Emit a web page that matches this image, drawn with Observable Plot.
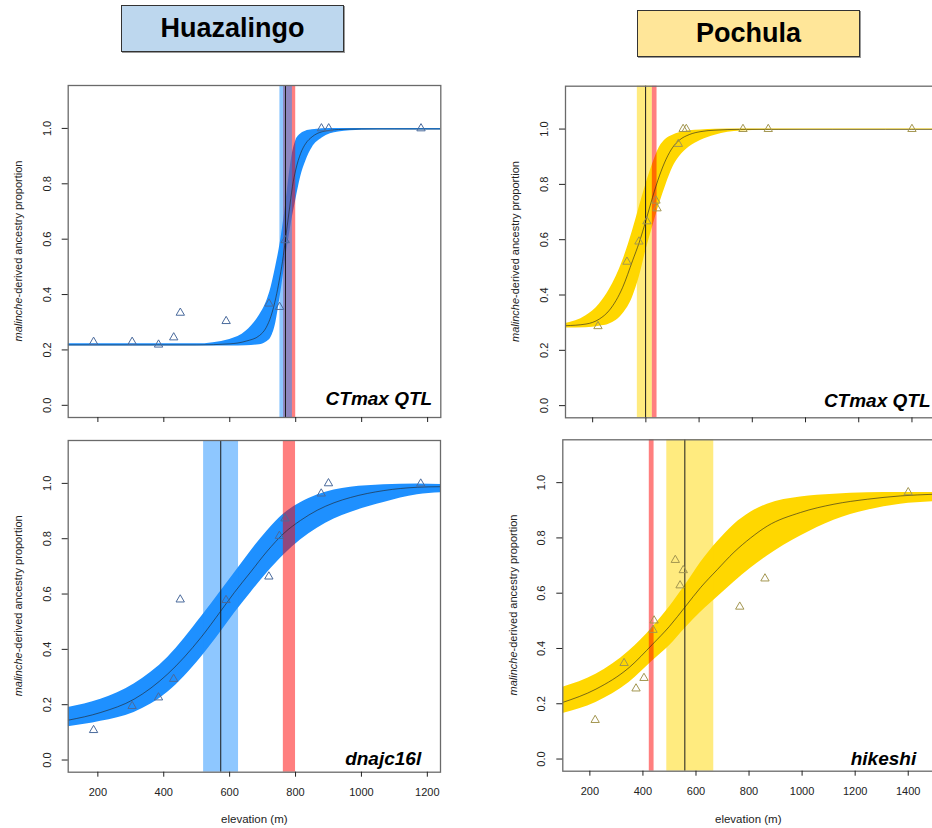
<!DOCTYPE html>
<html>
<head>
<meta charset="utf-8">
<script src="https://cdn.jsdelivr.net/npm/d3@7"></script>
<script src="https://cdn.jsdelivr.net/npm/@observablehq/plot@0.6"></script>
<style>
  html, body { margin: 0; padding: 0; background: #fff; overflow: hidden; }
  #chart { position: relative; width: 932px; height: 828px; overflow: hidden;
           font-family: "Liberation Sans", Arial, sans-serif; }
  .panel { position: absolute; }
  .title { position: absolute; box-sizing: border-box; border: 1px solid #333;
           box-shadow: 1px 1px 0 #999; font-weight: bold; font-size: 27px; color: #000;
           display: flex; align-items: center; justify-content: center; }
</style>
</head>
<body>
<div id="chart"></div>
<script>
// ---- axis ticks ----
const yTicks = [0, 0.2, 0.4, 0.6, 0.8, 1.0];
const huazTicks = [200, 400, 600, 800, 1000, 1200];
const pochTicks = [200, 400, 600, 800, 1000, 1200, 1400];

// ---- sampled populations (elevation, m) ----
const huazElev = [187, 304, 384, 430, 450, 589, 719, 751, 768, 878, 900, 1180];
const pochElev = [220, 329, 374, 404, 438, 442, 522, 540, 552, 765, 860, 1400];

// ---- malinche-derived ancestry proportion per population ----
const huazCtmaxProp = [0.229, 0.229, 0.219, 0.245, 0.334, 0.304, 0.367, 0.355, 0.596, 1.0, 1.0, 1.0];
const huazDnajcProp = [0.108, 0.195, 0.226, 0.293, 0.580, 0.578, 0.663, 0.810, 0.873, 0.963, 1.0, 0.999];
const pochCtmaxProp = [0.287, 0.520, 0.593, 0.666, 0.741, 0.713, 0.946, 1.0, 1.0, 1.0, 1.0, 1.0];
const pochHikeshiProp = [0.141, 0.347, 0.255, 0.293, 0.467, 0.501, 0.720, 0.628, 0.683, 0.551, 0.653, 0.965];

// ---- fitted clines: elevation grid, lower / upper bound, best fit ----
const huazCtmaxFitElev = [110, 500, 600, 650, 690, 710, 725, 740, 750, 760, 770, 780, 790, 800, 815, 830, 850, 880, 930, 1000, 1100, 1240];
const huazCtmaxFitLo = [0.214, 0.214, 0.214, 0.215, 0.219, 0.228, 0.245, 0.30, 0.37, 0.45, 0.535, 0.61, 0.68, 0.74, 0.825, 0.88, 0.93, 0.965, 0.987, 0.993, 0.994, 0.994];
const huazCtmaxFitHi = [0.222, 0.222, 0.238, 0.268, 0.325, 0.37, 0.425, 0.505, 0.565, 0.64, 0.73, 0.83, 0.91, 0.955, 0.98, 0.99, 0.995, 0.999, 1.0, 1.0, 1.0, 1.0];
const huazCtmaxFit = [0.218, 0.218, 0.222, 0.232, 0.252, 0.28, 0.322, 0.39, 0.45, 0.52, 0.61, 0.70, 0.79, 0.85, 0.91, 0.945, 0.97, 0.988, 0.996, 0.998, 0.998, 0.998];

const huazDnajcFitElev = [110, 209, 310, 412, 513, 574, 614, 664, 714, 765, 815, 866, 917, 967, 1068, 1170, 1240];
const huazDnajcFitLo = [0.12, 0.14, 0.172, 0.245, 0.371, 0.465, 0.53, 0.605, 0.677, 0.742, 0.795, 0.838, 0.871, 0.895, 0.931, 0.959, 0.966];
const huazDnajcFitHi = [0.19, 0.22, 0.275, 0.371, 0.516, 0.612, 0.675, 0.755, 0.828, 0.89, 0.93, 0.958, 0.976, 0.986, 0.995, 0.998, 0.996];
const huazDnajcFit = [0.144, 0.172, 0.22, 0.311, 0.443, 0.54, 0.605, 0.68, 0.755, 0.82, 0.866, 0.903, 0.93, 0.949, 0.974, 0.986, 0.988];

const pochCtmaxFitElev = [98, 175, 225, 263, 313, 350, 375, 400, 425, 451, 476, 501, 526, 563, 607, 660, 757, 900, 1100, 1300, 1496];
const pochCtmaxFitLo = [0.281, 0.282, 0.287, 0.295, 0.331, 0.392, 0.464, 0.56, 0.645, 0.729, 0.80, 0.861, 0.90, 0.935, 0.96, 0.978, 0.993, 0.996, 0.997, 0.997, 0.997];
const pochCtmaxFitHi = [0.297, 0.325, 0.367, 0.42, 0.524, 0.632, 0.717, 0.80, 0.873, 0.934, 0.964, 0.978, 0.987, 0.994, 0.997, 0.999, 1.0, 1.0, 1.0, 1.0, 1.0];
const pochCtmaxFit = [0.289, 0.295, 0.313, 0.345, 0.428, 0.524, 0.59, 0.669, 0.753, 0.831, 0.891, 0.934, 0.96, 0.98, 0.991, 0.996, 0.999, 0.999, 0.999, 0.999, 0.999];

const pochHikeshiFitElev = [98, 223, 348, 436, 500, 562, 617, 680, 743, 806, 869, 994, 1120, 1246, 1371, 1496];
const pochHikeshiFitLo = [0.165, 0.205, 0.277, 0.355, 0.41, 0.476, 0.53, 0.585, 0.64, 0.69, 0.735, 0.807, 0.864, 0.90, 0.922, 0.931];
const pochHikeshiFitHi = [0.26, 0.307, 0.391, 0.476, 0.55, 0.632, 0.71, 0.785, 0.848, 0.893, 0.922, 0.948, 0.958, 0.963, 0.964, 0.964];
const pochHikeshiFit = [0.205, 0.253, 0.331, 0.415, 0.48, 0.554, 0.62, 0.685, 0.748, 0.80, 0.843, 0.892, 0.922, 0.94, 0.952, 0.958];

// ---- cline centres (m) and their intervals; genome-wide interval in red ----
const huazGenomeCI = [763, 800];
const pochGenomeCI = [424, 442];
const huazCtmaxCenter = 769, huazCtmaxCI = [752, 790];
const huazDnajcCenter = 573, huazDnajcCI = [521, 627];
const pochCtmaxCenter = 399, pochCtmaxCI = [368, 424];
const pochHikeshiCenter = 558, pochHikeshiCI = [490, 667];

const FONT = '"Liberation Sans", Arial, sans-serif';
const chart = document.getElementById("chart");

function addTitle(text, left, top, w, h, bg) {
  const d = document.createElement("div");
  d.className = "title";
  Object.assign(d.style, {left: left + "px", top: top + "px", width: w + "px", height: h + "px", background: bg});
  d.textContent = text;
  chart.appendChild(d);
}

function drawPanel(c) {
  const fit = c.fitElev.map((x, i) => ({x, lo: c.fitLo[i], hi: c.fitHi[i], mid: c.fit[i]}));
  const pts = c.elev.map((x, i) => ({x, y: c.prop[i]}));
  const m = c.margin;
  const svg = Plot.plot({
    width: c.width, height: c.height,
    marginLeft: m[0], marginRight: m[1], marginTop: m[2], marginBottom: m[3],
    x: {domain: c.xDomain},
    y: {domain: [-0.044, 1.155]},
    style: {fontFamily: FONT, fontSize: "11px", color: "#222", background: "transparent", maxWidth: "none", overflow: "visible"},
    marks: [
      Plot.areaY(fit, {x: "x", y1: "lo", y2: "hi", fill: c.band, curve: "monotone-x", clip: true}),
      Plot.rect([c.genomeCI], {x1: d => d[0], x2: d => d[1], fill: "#ff0000", fillOpacity: 0.5}),
      Plot.rect([c.centerCI], {x1: d => d[0], x2: d => d[1], fill: c.band, fillOpacity: 0.5}),
      Plot.ruleX([c.center], {stroke: "#1a1a1a", strokeWidth: 1}),
      Plot.line(fit, {x: "x", y: "mid", stroke: "#222", strokeOpacity: 0.6, strokeWidth: 1, curve: "monotone-x", clip: true}),
      Plot.dot(pts, {x: "x", y: "y", symbol: "triangle", r: 3.1, stroke: c.pointColor, strokeWidth: 1, fill: "none"}),
      Plot.frame({stroke: "#6a6a6a", strokeWidth: 1.3}),
      Plot.axisY({ticks: yTicks, tickSize: 6, tickFormat: () => "", label: null}),
      Plot.text(yTicks, {y: d => d, text: d => d.toFixed(1), frameAnchor: "left", rotate: -90, dx: -21,
                         textAnchor: "middle", lineAnchor: "middle", fontSize: 11, fill: "#222"}),
      Plot.axisX({ticks: c.xTicks, tickSize: 5, tickPadding: 11, fontSize: 11, label: null,
                  tickFormat: c.xLabels ? (d => String(d)) : (() => "")}),
      c.xLabels ? Plot.text(["elevation (m)"], {text: d => d, frameAnchor: "bottom", dy: c.xLabelDy,
                         lineAnchor: "middle", fontSize: 11.5, fill: "#222"}) : null,
      Plot.text([c.name], {text: d => d, frameAnchor: "bottom-right", dx: c.nameDx, dy: c.nameDy,
                           textAnchor: "end", lineAnchor: "middle", fontSize: 19, fontWeight: "bold",
                           fontStyle: "italic", fill: "#000"})
    ]
  });
  // y-axis title with the italic population name
  const midY = (m[2] + c.height - m[3]) / 2;
  const t = d3.select(svg).append("text")
    .attr("transform", `translate(${m[0] - c.yLabelOffset},${midY}) rotate(-90)`)
    .attr("text-anchor", "middle").attr("dominant-baseline", "central")
    .attr("font-size", 11).attr("fill", "#222").attr("font-family", FONT);
  t.append("tspan").attr("font-style", "italic").text("malinche");
  t.append("tspan").text("-derived ancestry proportion");

  const div = document.createElement("div");
  div.className = "panel";
  Object.assign(div.style, {left: c.left + "px", top: c.top + "px", width: c.width + "px", height: c.height + "px"});
  div.appendChild(svg);
  chart.appendChild(div);
}

const HUAZ_BAND = "#1e90ff", POCH_BAND = "#ffd700";
const HUAZ_PT = "#4a6a9c", POCH_PT = "#a39650";

drawPanel({left: 0, top: 75, width: 450, height: 360, margin: [67.7, 9.7, 10, 18],
  xDomain: [110, 1240], xTicks: huazTicks, xLabels: false,
  fitElev: huazCtmaxFitElev, fitLo: huazCtmaxFitLo, fitHi: huazCtmaxFitHi, fit: huazCtmaxFit,
  elev: huazElev, prop: huazCtmaxProp, band: HUAZ_BAND, pointColor: HUAZ_PT,
  genomeCI: huazGenomeCI, centerCI: huazCtmaxCI, center: huazCtmaxCenter,
  name: "CTmax QTL", nameDx: -8.6, nameDy: -18.1, yLabelOffset: 49.4});

drawPanel({left: 0, top: 430, width: 450, height: 398, margin: [67.7, 10, 10, 56.3],
  xDomain: [110, 1240], xTicks: huazTicks, xLabels: true, xLabelDy: 47.3,
  fitElev: huazDnajcFitElev, fitLo: huazDnajcFitLo, fitHi: huazDnajcFitHi, fit: huazDnajcFit,
  elev: huazElev, prop: huazDnajcProp, band: HUAZ_BAND, pointColor: HUAZ_PT,
  genomeCI: huazGenomeCI, centerCI: huazDnajcCI, center: huazDnajcCenter,
  name: "dnajc16l", nameDx: -19.3, nameDy: -13.5, yLabelOffset: 49.4});

drawPanel({left: 480, top: 75, width: 470, height: 360, margin: [85, 13, 10.7, 17.7],
  xDomain: [98, 1496], xTicks: pochTicks, xLabels: false,
  fitElev: pochCtmaxFitElev, fitLo: pochCtmaxFitLo, fitHi: pochCtmaxFitHi, fit: pochCtmaxFit,
  elev: pochElev, prop: pochCtmaxProp, band: POCH_BAND, pointColor: POCH_PT,
  genomeCI: pochGenomeCI, centerCI: pochCtmaxCI, center: pochCtmaxCenter,
  name: "CTmax QTL", nameDx: -7, nameDy: -16.7, yLabelOffset: 50});

drawPanel({left: 480, top: 430, width: 470, height: 398, margin: [82.3, 16.8, 9.3, 57.3],
  xDomain: [98, 1496], xTicks: pochTicks, xLabels: true, xLabelDy: 48.6,
  fitElev: pochHikeshiFitElev, fitLo: pochHikeshiFitLo, fitHi: pochHikeshiFitHi, fit: pochHikeshiFit,
  elev: pochElev, prop: pochHikeshiProp, band: POCH_BAND, pointColor: POCH_PT,
  genomeCI: pochGenomeCI, centerCI: pochHikeshiCI, center: pochHikeshiCenter,
  name: "hikeshi", nameDx: -17.5, nameDy: -11.8, yLabelOffset: 49});

addTitle("Huazalingo", 121, 5, 223, 47, "#bdd7ee");
addTitle("Pochula", 637, 10, 223, 47, "#ffe699");
</script>
</body>
</html>
